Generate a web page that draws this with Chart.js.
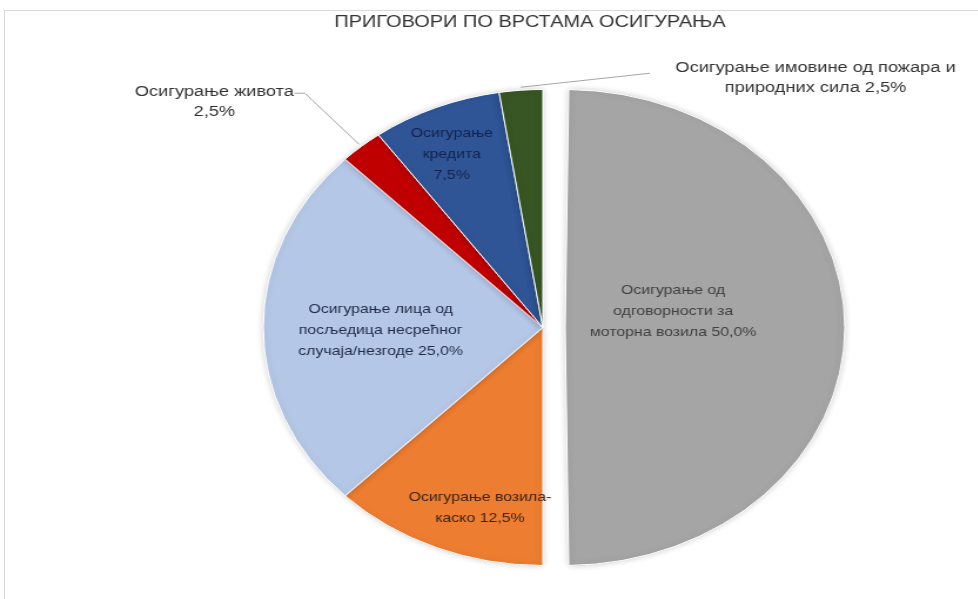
<!DOCTYPE html>
<html lang="sr">
<head>
<meta charset="utf-8">
<title>Приговори по врстама осигурања</title>
<script src="https://cdn.jsdelivr.net/npm/chart.js@4.4.1/dist/chart.umd.min.js"></script>
<style>
  html, body { margin: 0; padding: 0; background: #fff; }
  #okvir {
    position: absolute; left: 4px; top: 10px; width: 1000px; height: 700px;
    border-left: 1px solid #d9d9d9; border-top: 1px solid #d9d9d9;
  }
  /* originalni grafikon je razvučen vodoravno, pa je i krug elipsa */
  #pita { position: absolute; left: 0; top: 0; transform: scaleX(1.175); transform-origin: 0 0; }
</style>
</head>
<body>
<div id="okvir"></div>
<canvas id="pita" width="832" height="599"></canvas>
<script>
const naslov = 'ПРИГОВОРИ ПО ВРСТАМА ОСИГУРАЊА';
const vrste = [
  'Осигурање од\nодговорности за\nмоторна возила',
  'Осигурање возила-\nкаско',
  'Осигурање лица од\nпосљедица несрећног\nслучаја/незгоде',
  'Осигурање живота',
  'Осигурање\nкредита',
  'Осигурање имовине од пожара и\nприродних сила'
];
const procenti = [50.0, 12.5, 25.0, 2.5, 7.5, 2.5];
const boje = ['#a5a5a5', '#ed7d31', '#b4c7e7', '#c00000', '#2f5597', '#375623'];

// procenat u posebnom redu ili na kraju zadnjeg reda
const procenatNoviRed = [false, false, false, true, true, false];

// gdje stoji koja oznaka (f = dio poluprecnika, van = oznaka izvan pite s linijom)
const smjestaj = [
  { f: 0.386, dx: 0, dy: -16.5, boja: '#404040' },
  { f: 0.786, dx: 18, dy: 7, boja: '#3b2415' },
  { f: 0.58, dx: 0, dy: 2.5, boja: '#1f2b45' },
  { van: true, lakat: [-46, -51], rep: -9, tekst: [-77, 8] },
  { f: 0.796, dx: -5, dy: 2, boja: '#14234a' },
  { van: true, lakat: [110, -14], rep: 0, tekst: [141, 4.5] }
];

function tekstOznake(i) {
  const p = procenti[i].toFixed(1).replace('.', ',') + '%';
  const redovi = vrste[i].split('\n');
  if (procenatNoviRed[i]) redovi.push(p);
  else redovi[redovi.length - 1] += ' ' + p;
  return redovi;
}

const sjenka = {
  id: 'sjenka',
  beforeDatasetsDraw(chart) {
    // izvučeni isječak Chart.js crta s većim poluprečnikom, pa ga vraćamo na isti
    const meta = chart.getDatasetMeta(0);
    const R = meta.controller.outerRadius;
    meta.data.forEach(arc => {
      const off = (arc.options.offset || 0) / 4;
      const fix = 1 - Math.sin(Math.min(Math.PI, arc.circumference));
      arc.outerRadius = R - off * fix;
    });
    const ctx = chart.ctx;
    ctx.save();
    ctx.shadowColor = 'rgba(0,0,0,0.18)';
    ctx.shadowBlur = 6;
  },
  afterDatasetsDraw(chart) {
    chart.ctx.restore();
  }
};

const oznake = {
  id: 'oznake',
  afterDraw(chart) {
    const ctx = chart.ctx;
    ctx.save();
    ctx.textAlign = 'center';
    ctx.textBaseline = 'middle';

    ctx.fillStyle = '#333333';
    ctx.font = '17px "Liberation Sans", Arial, sans-serif';
    ctx.fillText(naslov, 451, 22);

    const meta = chart.getDatasetMeta(0);
    const R = meta.controller.outerRadius;
    meta.data.forEach((arc, i) => {
      const s = smjestaj[i];
      const { x, y, startAngle, endAngle } =
        arc.getProps(['x', 'y', 'startAngle', 'endAngle'], true);
      const mid = (startAngle + endAngle) / 2;
      const cos = Math.cos(mid), sin = Math.sin(mid);
      const redovi = tekstOznake(i);

      if (s.van) {
        const ax = x + cos * (R + 3), ay = y + sin * (R + 3);
        const ex = ax + s.lakat[0], ey = ay + s.lakat[1];
        ctx.strokeStyle = '#a6a6a6';
        ctx.lineWidth = 1;
        ctx.beginPath();
        ctx.moveTo(ax, ay);
        ctx.lineTo(ex, ey);
        ctx.lineTo(ex + s.rep, ey);
        ctx.stroke();

        ctx.fillStyle = '#333333';
        ctx.font = '15.5px "Liberation Sans", Arial, sans-serif';
        const tx = ex + s.tekst[0], ty = ey + s.tekst[1];
        const lh = 20;
        redovi.forEach((r, k) => {
          ctx.fillText(r, tx, ty + (k - (redovi.length - 1) / 2) * lh);
        });
      } else {
        // Chart.js arc pomjera isječak za offset / 4
        const off = (arc.options.offset || 0) / 4;
        const d = off + s.f * R;
        const tx = x + cos * d + s.dx, ty = y + sin * d + s.dy;
        const lh = 21;
        ctx.fillStyle = s.boja;
        ctx.font = '13.5px "Liberation Sans", Arial, sans-serif';
        redovi.forEach((r, k) => {
          ctx.fillText(r, tx, ty + (k - (redovi.length - 1) / 2) * lh);
        });
      }
    });
    ctx.restore();
  }
};

new Chart(document.getElementById('pita'), {
  type: 'pie',
  data: {
    labels: vrste,
    datasets: [{
      data: procenti,
      backgroundColor: boje,
      borderColor: '#ffffff',
      borderWidth: 1,
      offset: [76, 0, 0, 0, 0, 0],
      radius: 238
    }]
  },
  options: {
    responsive: false,
    animation: false,
    layout: { padding: { left: 112, right: 20, top: 66, bottom: 10 } },
    plugins: {
      legend: { display: false },
      tooltip: { enabled: false },
      title: { display: false }
    }
  },
  plugins: [sjenka, oznake]
});
</script>
</body>
</html>
